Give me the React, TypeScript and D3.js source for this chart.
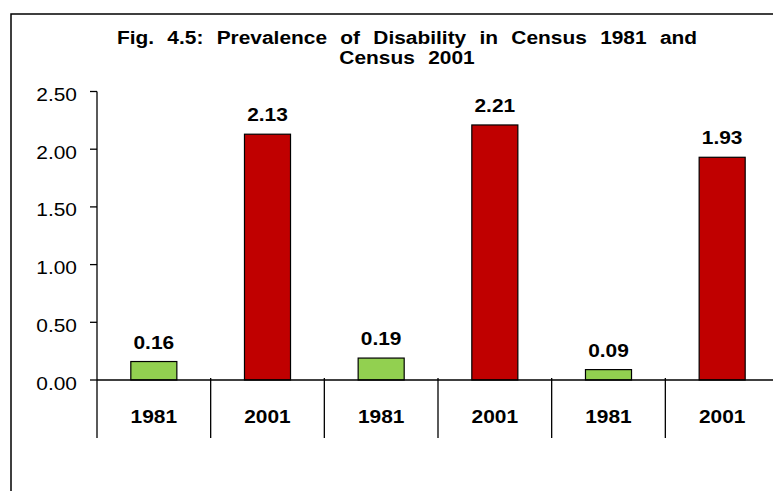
import React from 'react';
import * as d3 from 'd3';

const categories = ['1981', '2001', '1981', '2001', '1981', '2001'];
const values = [0.16, 2.13, 0.19, 2.21, 0.09, 1.93];
const yTicks = [0, 0.5, 1.0, 1.5, 2.0, 2.5];
const titleLines = ['Fig. 4.5: Prevalence of Disability in Census 1981 and', 'Census 2001'];
const yearColors: Record<string, string> = { '1981': '#92D050', '2001': '#C00000' };

const W = 773;
const H = 491;
const FONT = 'Arial, "Liberation Sans", Helvetica, sans-serif';
const SX = 1.1;
const FS = 19;

function SText({ x, y, anchor, weight, size, children, wordSpacing }: any) {
  return (
    <g transform={`translate(${x},${y}) scale(${SX},1)`}>
      <text
        x={0}
        y={0}
        textAnchor={anchor}
        fontFamily={FONT}
        fontWeight={weight}
        fontSize={size}
        fill="#000"
        style={wordSpacing ? { wordSpacing: `${wordSpacing}px` } : undefined}
      >
        {children}
      </text>
    </g>
  );
}

export default function App() {
  const x = d3
    .scaleBand<number>()
    .domain(categories.map((_, i) => i))
    .range([97, 779])
    .padding(0);
  const y = d3.scaleLinear().domain([0, 2.5]).range([380, 91.5]);
  const bw = x.bandwidth() * 0.405;
  const bounds = categories.map((_, i) => x(i) as number);

  return (
    <svg width={W} height={H} style={{ position: 'absolute', left: 0, top: 0, background: '#fff' }}>
      <rect x={0} y={0} width={W} height={H} fill="#fff" />
      {/* frame */}
      <path d={`M11,${H + 2} L11,14 L${W + 2},14`} fill="none" stroke="#000" strokeWidth={1.5} />

      {/* title */}
      <SText x={407} y={44} anchor="middle" weight="bold" size={FS} wordSpacing={6.8}>
        {titleLines[0]}
      </SText>
      <SText x={407} y={64} anchor="middle" weight="bold" size={FS} wordSpacing={6.8}>
        {titleLines[1]}
      </SText>

      {/* y axis */}
      <line x1={97} x2={97} y1={y(2.5)} y2={438} stroke="#000" strokeWidth={1.3} />
      {yTicks.map((t) => (
        <g key={t}>
          <line x1={90} x2={97} y1={y(t)} y2={y(t)} stroke="#000" strokeWidth={1.3} />
          <SText x={77} y={y(t) + 9.5} anchor="end" weight="normal" size={FS}>
            {d3.format('.2f')(t)}
          </SText>
        </g>
      ))}

      {/* bars */}
      {values.map((v, i) => {
        const cx = (x(i) as number) + x.bandwidth() / 2;
        return (
          <g key={i}>
            <rect
              x={cx - bw / 2}
              y={y(v)}
              width={bw}
              height={y(0) - y(v)}
              fill={yearColors[categories[i]]}
              stroke="#000"
              strokeWidth={1.2}
            />
            <SText x={cx} y={y(v) - 13} anchor="middle" weight="bold" size={FS}>
              {d3.format('.2f')(v)}
            </SText>
          </g>
        );
      })}

      {/* x axis */}
      <line x1={97} x2={W + 10} y1={y(0)} y2={y(0)} stroke="#000" strokeWidth={1.3} />
      {bounds.slice(1).map((bx, i) => (
        <line key={i} x1={bx} x2={bx} y1={y(0) - 2} y2={438} stroke="#000" strokeWidth={1.3} />
      ))}
      {categories.map((c, i) => (
        <SText key={i} x={(x(i) as number) + x.bandwidth() / 2} y={423} anchor="middle" weight="bold" size={FS}>
          {c}
        </SText>
      ))}
    </svg>
  );
}
